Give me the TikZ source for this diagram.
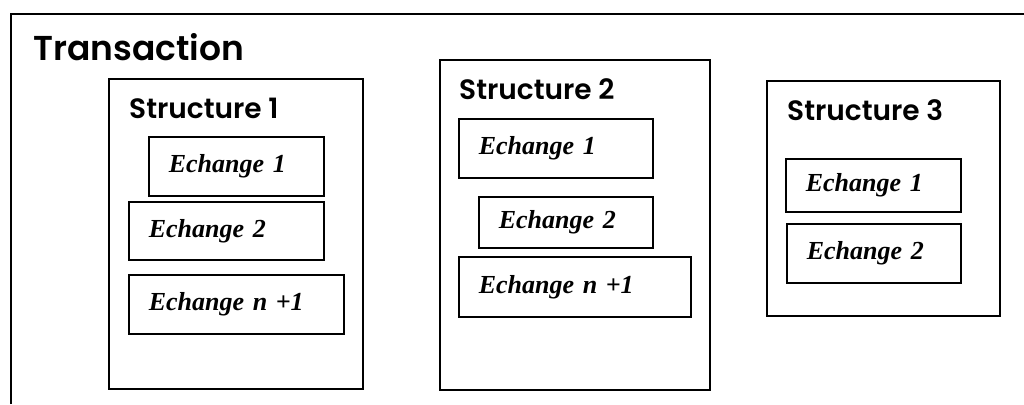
\documentclass[tikz,border=0pt]{standalone}
\usepackage{fontspec}
\setsansfont{Poppins}[UprightFont={* SemiBold}]
\newfontfamily\echfont{Liberation Serif}
\usepackage{tikz}

\begin{document}
\begin{tikzpicture}[x=1pt,y=-1pt,
        structbox/.style={draw,line width=1.5pt,anchor=north west,inner sep=0pt},
        echbox/.style={draw,line width=1.5pt,anchor=north west,inner xsep=20pt,
            inner ysep=0pt,text width=#1,align=left,
            font=\echfont\bfseries\itshape\fontsize{26}{28}\selectfont},
        title/.style={anchor=base west,inner sep=0pt,
            font=\sffamily\fontsize{28}{32}\selectfont}]
        \useasboundingbox (0,0) rectangle (1024,404);

        % Outer frame, cut by the page at right and bottom
        \draw[line width=1.5pt] (11,404) -- (11,14) -- (1024,14);
        \node[title,font=\sffamily\fontsize{34.5}{40}\selectfont] (trans) at (33,60) {Transaction};

        % Structures
        \node[structbox,minimum width=254,minimum height=310] (s1) at (108,78) {};
        \node[structbox,minimum width=270,minimum height=330] (s2) at (439,59) {};
        \node[structbox,minimum width=233,minimum height=235] (s3) at (766,80) {};
        \node[title] (s1t) at (129,118) {Structure 1};
        \node[title] (s2t) at (459,99) {Structure 2};
        \node[title] (s3t) at (787,120) {Structure 3};

        % Echanges in structure 1
        \node[echbox=135,minimum height=59] (s1e1) at (148,136) {Echange 1};
        \node[echbox=155,minimum height=58] (s1e2) at (128,201) {Echange 2};
        \node[echbox=175,minimum height=59] (s1en) at (128,274) {Echange n +1};

        % Echanges in structure 2
        \node[echbox=154,minimum height=59] (s2e1) at (458,118) {Echange 1};
        \node[echbox=134,minimum height=51] (s2e2) at (478,196) {Echange 2};
        \node[echbox=192,minimum height=60] (s2en) at (458,256) {Echange n +1};

        % Echanges in structure 3
        \node[echbox=135,minimum height=53] (s3e1) at (785,158) {Echange 1};
        \node[echbox=134,minimum height=59] (s3e2) at (786,223) {Echange 2};
    \end{tikzpicture}
\end{document}
